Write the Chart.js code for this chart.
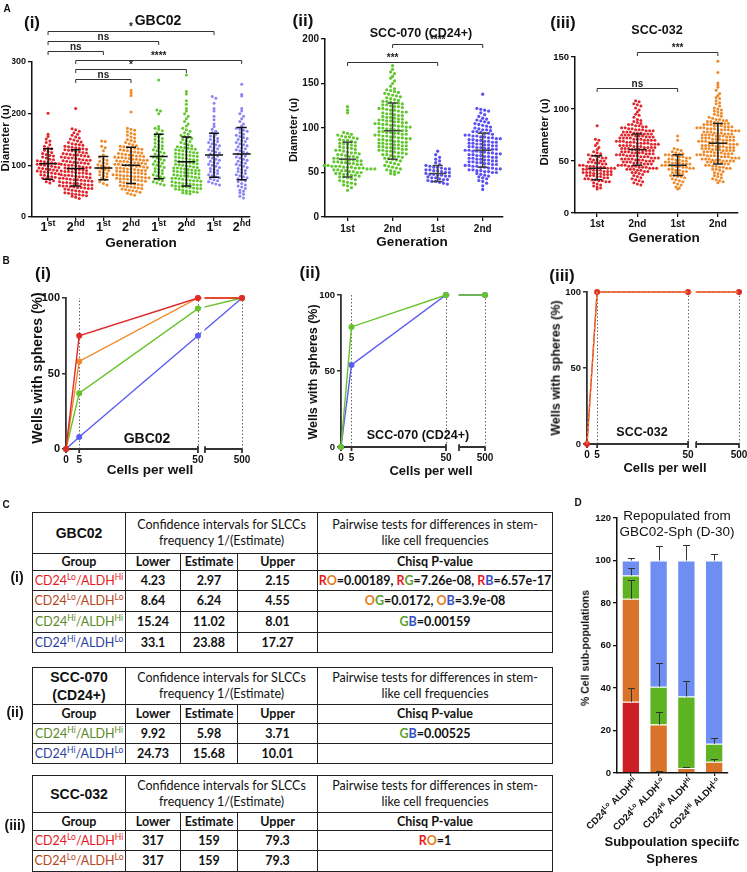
<!DOCTYPE html>
<html><head><meta charset="utf-8">
<script src="https://cdn.jsdelivr.net/npm/chart.js@4.4.0/dist/chart.umd.min.js"></script>
<style>
body{margin:0;width:747px;height:872px;position:relative;background:#fff;overflow:hidden;font-family:"Liberation Sans",Arial,sans-serif;color:#111}
.t{position:absolute;white-space:nowrap;font-weight:bold;line-height:1;color:#111;z-index:2}
table.tb{position:absolute;left:32px;width:520px;border-collapse:collapse;table-layout:fixed;font-family:Lato,"Open Sans",sans-serif;font-size:12.5px;color:#111}
.tb td{border:1.5px solid #222;text-align:center;padding:0;line-height:16px;white-space:nowrap;overflow:hidden}
.tb .b td,.tb td.b{font-weight:bold}
.tb td.nm{font-family:"Liberation Sans",Arial,sans-serif;font-weight:bold;line-height:18px}
.tb sup{font-size:8.5px;vertical-align:5px;line-height:0}
</style></head><body>
<script>
// ================= DATA =================
// Panel A(i) GBC02 – sphere diameters per generation
const genA1 = ['1st','2nd','1st','2nd','1st','2nd','1st','2nd'];
const a1c1 = [201,160,156,151,147,144,140,137,134,132,129,127,125,123,121,119,118,116,114,112,111,109,108,107,106,105,104,103,102,101,100,99,98,97,96,95,94,93,92,91,90,89,88,87,86,85,84,83,82,81,79,78,77,75,74,72,70,68,66];
const a1c2 = [210,171,169,166,163,160,158,155,153,151,149,147,145,144,142,141,140,139,137,136,135,134,133,132,131,130,129,128,127,126,125,124,123,122,121,120,120,119,118,117,116,115,114,114,113,112,111,110,110,109,108,107,106,105,105,104,103,102,101,100,100,99,98,97,96,96,95,94,93,92,92,91,90,89,88,88,87,86,85,85,84,83,82,81,81,80,79,78,78,77,76,75,75,74,73,72,72,71,70,70,69,68,67,67,66,65,65,64,63,62,62,61,60,60,59,58,57,57,56,55,55,54,53,52,51,50,49,48,47,46,45,44,43,42,41,40,38,36];
const a1c3 = [147,146,137,134,128,120,116,112,110,108,105,103,101,99,97,96,95,94,92,90,88,86,84,82,80,78,75,72,68,65,62];
const a1c4 = [245,240,235,203,172,170,168,165,162,160,158,155,153,150,148,146,144,142,140,138,137,136,135,134,133,132,131,130,129,128,127,126,125,124,123,122,121,120,119,118,118,117,116,115,115,114,113,112,112,111,110,110,109,108,108,107,106,105,105,104,103,102,102,101,100,100,99,98,98,97,96,95,95,94,93,93,92,91,90,90,89,88,88,87,86,85,85,84,83,82,82,81,80,80,79,78,78,77,76,76,75,74,74,73,72,72,71,70,69,68,67,66,65,64,63,62,61,60,59,58,57,56,55,54,53,52,51,50,48,46,44,42];
const a1c5 = [265,207,205,200,175,172,170,167,163,160,157,155,152,150,147,145,143,140,138,136,134,132,130,128,126,124,122,120,118,116,114,112,110,108,106,104,102,100,98,96,94,92,90,88,86,84,82,80,78,76,74,72,70,68,66,64,62];
const a1c6 = [275,243,238,225,218,210,205,200,195,190,185,180,176,172,169,166,163,160,158,156,154,152,150,148,146,144,142,140,138,136,135,134,133,132,131,130,129,128,127,126,125,124,123,122,121,120,119,118,117,116,115,114,113,112,111,110,109,108,107,106,105,104,103,102,101,100,99,98,97,96,95,95,94,93,92,91,90,90,89,88,87,86,85,85,84,83,82,81,80,80,79,78,77,76,75,75,74,73,72,71,70,70,69,68,67,66,65,65,64,63,62,62,61,60,59,58,58,57,56,55,55,54,53,52,51,50,49,48,47,46,45];
const a1c7 = [233,230,220,210,205,195,188,180,175,170,166,163,160,157,155,152,150,148,146,144,142,140,138,136,134,132,130,128,126,124,122,120,118,116,114,112,110,108,106,104,102,100,98,96,94,92,90,88,86,84,82,80,78,76,74,72,70,68,66,64,62];
const a1c8 = [257,237,234,210,205,200,195,190,185,180,176,172,170,168,166,163,160,158,156,154,152,150,148,146,144,142,140,138,136,134,132,130,128,126,124,122,120,118,116,114,112,110,108,106,104,102,100,98,96,94,92,90,88,86,84,82,80,78,76,74,72,70,68,65,62,60,58,55,52,50,47,44,40,37];
const meanA1 = [103,94,95,100,117,107,120,122];
const sdLoA1 = [73,60,72,65,74,60,77,72];
const sdHiA1 = [132,130,117,135,160,155,162,173];
const sigA1 = [[0,6,'*'],[0,4,'ns'],[0,2,'ns'],[1,7,'****'],[1,5,'*'],[1,3,'ns']];

// Panel A(ii) SCC-070 (CD24+)
const genA2 = ['1st','2nd','1st','2nd'];
const a2c1 = [124,120,117,95,94,93,92,91,90,90,89,88,87,86,86,85,84,83,82,82,81,80,79,78,78,77,76,75,75,74,73,72,72,71,70,70,69,68,68,67,66,66,65,65,64,64,63,63,62,62,61,61,60,60,59,59,58,58,58,57,57,57,56,56,56,55,55,55,54,54,54,53,53,52,52,51,51,50,50,49,49,48,48,47,47,46,45,45,44,43,42,41,40,39,38,37,36,35,33,30];
const a2c2 = [170,166,163,161,158,156,153,150,147,144,143,142,141,140,139,138,137,136,135,134,133,132,131,130,130,129,128,128,127,126,126,125,124,124,123,122,122,121,120,120,119,118,118,117,116,116,115,114,114,113,112,112,111,110,110,109,109,108,108,107,107,106,106,105,105,104,104,103,103,102,102,101,101,100,100,99,99,98,98,97,97,96,96,95,95,94,94,93,93,92,92,91,91,90,90,89,89,88,88,87,87,86,86,85,85,84,84,83,83,82,82,81,81,80,80,79,79,78,78,77,77,76,76,75,75,74,74,73,72,72,71,70,70,69,68,68,67,66,66,65,64,63,62,61,60,59,58,57,56,55,54,53,52,51,50,49,48];
const a2c3 = [74,70,67,65,63,61,59,58,57,56,56,55,54,54,53,53,52,52,51,50,50,49,48,48,47,47,46,46,45,44,44,43,42,42,41,40,40,39,38,37];
const a2c4 = [138,122,121,120,119,117,115,113,111,110,109,108,107,106,105,104,103,102,101,100,99,98,98,97,96,96,95,94,94,93,92,92,91,91,90,90,89,89,88,88,87,87,86,86,85,85,84,84,83,83,82,82,81,81,80,80,79,79,78,78,77,77,76,76,75,75,74,74,73,73,72,72,71,71,70,70,69,69,68,68,67,67,66,66,65,65,64,64,63,63,62,62,61,61,60,60,59,59,58,58,57,57,56,56,55,55,54,54,53,53,52,52,51,51,50,50,49,48,47,46,45,44,43,41,40,38,35,31];
const meanA2 = [65,97,49,75];
const sdLoA2 = [45,65,40,56];
const sdHiA2 = [84,128,58,94];
const sigA2 = [[0,2,'***'],[1,3,'****']];

// Panel A(iii) SCC-032
const genA3 = ['1st','2nd','1st','2nd'];
const a3c1 = [84,71,70,67,65,63,61,59,58,57,56,55,55,54,53,53,52,51,51,50,50,49,49,48,48,47,47,46,46,45,45,45,44,44,44,43,43,43,42,42,42,41,41,41,40,40,40,39,39,39,38,38,38,37,37,37,36,36,36,35,35,34,34,33,33,32,32,31,31,30,30,29,28,27,26,25,24,23];
const a3c2 = [108,107,105,104,103,101,99,97,95,94,92,90,89,88,87,86,85,85,84,84,83,83,82,82,81,81,80,80,80,79,79,79,78,78,78,77,77,77,76,76,76,75,75,75,75,74,74,74,73,73,73,72,72,72,72,71,71,71,70,70,70,70,69,69,69,68,68,68,67,67,67,67,66,66,66,65,65,65,65,64,64,64,63,63,63,63,62,62,62,61,61,61,60,60,60,60,59,59,59,58,58,58,58,57,57,57,56,56,56,55,55,55,55,54,54,54,53,53,53,52,52,52,52,51,51,51,50,50,50,49,49,49,48,48,48,47,47,47,46,46,46,45,45,45,44,44,44,43,43,43,42,42,42,41,41,40,40,39,39,38,37,36,35,34,33,32,31,30,29,28,27];
const a3c3 = [74,70,62,61,60,59,58,57,57,56,56,55,55,54,54,53,53,52,52,51,51,50,50,49,49,48,48,48,47,47,47,46,46,46,45,45,45,44,44,43,43,42,42,41,41,40,40,39,39,38,37,36,36,35,35,34,33,32,31,30,29,28,27,25,24,23];
const a3c4 = [146,135,125,123,121,118,115,113,111,110,108,106,105,103,101,100,99,98,97,96,95,94,93,92,91,90,90,89,89,88,88,87,87,86,86,86,85,85,85,84,84,84,83,83,83,82,82,82,81,81,81,80,80,80,80,79,79,79,78,78,78,77,77,77,76,76,76,75,75,75,75,74,74,74,73,73,73,72,72,72,71,71,71,70,70,70,70,69,69,69,68,68,68,67,67,67,66,66,66,65,65,65,65,64,64,64,63,63,63,62,62,62,61,61,61,60,60,60,60,59,59,59,58,58,58,57,57,57,56,56,56,55,55,55,55,54,54,54,53,53,53,52,52,52,51,51,51,50,50,50,50,49,49,49,48,48,47,47,46,46,45,45,44,44,43,43,42,42,41,40,39,38,37,36,35,34,33,32,31,30,29];
const meanA3 = [43,61,46,67];
const sdLoA3 = [32,46,36,47];
const sdHiA3 = [55,76,56,86];
const sigA3 = [[0,2,'ns'],[1,3,'***']];

// Panel B – wells with spheres (%) vs cells per well
const cellsB = [0,5,50,500];
const b1Red = [0,75,100,100];
const b1Orange = [0,58,100,100];
const b1Green = [0,37,93,100];
const b1Blue = [0,8,75,100];
const b2Green = [0,79,100,100];
const b2Blue = [0,54,100,100];
const b3Red = [0,100,100,100];
const b3Orange = [0,100,100,100];
const yTicksB = [0,50,100];

// Panel C – tables
const tGroups1 = [['Lo','Hi'],['Lo','Lo'],['Hi','Hi'],['Hi','Lo']];
const tLower1 = ['4.23','8.64','15.24','33.1'];
const tEst1 = ['2.97','6.24','11.02','23.88'];
const tUpper1 = ['2.15','4.55','8.01','17.27'];
const tP1 = ['RO=0.00189, RG=7.26e-08, RB=6.57e-17','OG=0.0172, OB=3.9e-08','GB=0.00159',''];
const tGroups2 = [['Hi','Hi'],['Hi','Lo']];
const tLower2 = ['9.92','24.73'];
const tEst2 = ['5.98','15.68'];
const tUpper2 = ['3.71','10.01'];
const tP2 = ['GB=0.00525',''];
const tGroups3 = [['Lo','Hi'],['Lo','Lo']];
const tLower3 = ['317','317'];
const tEst3 = ['159','159'];
const tUpper3 = ['79.3','79.3'];
const tP3 = ['RO=1',''];

// Panel D – % cell sub-populations (stacked) with upper error
const dCD24 = ['Lo','Lo','Hi','Hi'];
const dALDH = ['Hi','Lo','Hi','Lo'];
const dRed = [33.5,0.3,0,0];
const dOrange = [48.5,22.5,2.4,5.3];
const dGreen = [11,17.8,33.6,8.5];
const dBlue = [7,59.4,64,86.2];
const dRedErr = [6.5,0.8,0,0];
const dOrangeErr = [9,5.8,0.6,1.2];
const dGreenErr = [3.5,11.2,7.4,2.7];
const dBlueErr = [1,7,7.5,3];
const yTicksD = [0,20,40,60,80,100,120];

// ================= HELPERS =================
const FONT = "'Liberation Sans', Arial, sans-serif";
Chart.defaults.font.family = FONT;
Chart.defaults.color = '#111';
Chart.defaults.plugins.legend.display = false;
Chart.defaults.plugins.tooltip.enabled = false;

function T(html, x, y, size, opt) {
  opt = opt || {};
  const e = document.createElement('div');
  e.className = 't';
  e.innerHTML = html;
  e.style.left = x + 'px'; e.style.top = y + 'px'; e.style.fontSize = size + 'px';
  e.style.transform = 'translate(-50%,-50%)' + (opt.rot ? ' rotate(' + opt.rot + 'deg)' : '');
  if (opt.w) e.style.fontWeight = opt.w;
  document.body.appendChild(e);
}

function place(box, area, yW, xH, cfg) {
  const [L, Tp, W, H] = box;
  const d = document.createElement('div');
  d.style.cssText = `position:absolute;left:${L}px;top:${Tp}px;width:${W}px;height:${H}px;z-index:1`;
  const c = document.createElement('canvas');
  c.width = W; c.height = H; c.style.width = W + 'px'; c.style.height = H + 'px';
  d.appendChild(c); document.body.appendChild(d);
  const o = cfg.options;
  o.responsive = false; o.animation = false; o.devicePixelRatio = 1;
  o.layout = {padding: {left: area[0] - L - yW, top: area[1] - Tp, right: L + W - area[2], bottom: Tp + H - area[3] - xH}};
  if (o.scales.x.display !== false) o.scales.x.afterFit = s => { s.height = xH; };
  o.scales.y.afterFit = s => { s.width = yW; };
  return new Chart(c, cfg);
}

function swarm(chart, cols, dx, rowPx) {
  const xs = chart.scales.x, ys = chart.scales.y;
  const unit = xs.getPixelForValue(1) - xs.getPixelForValue(0);
  chart.data.datasets.forEach((ds, ci) => {
    const rows = new Map();
    cols[ci].forEach(v => {
      const r = Math.round(ys.getPixelForValue(v) / rowPx);
      if (!rows.has(r)) rows.set(r, []);
      rows.get(r).push(v);
    });
    const pts = [];
    rows.forEach(arr => {
      const n = arr.length;
      arr.forEach((v, j) => pts.push({x: ci + (j - (n - 1) / 2) * dx / unit, y: v}));
    });
    ds.data = pts;
  });
  chart.update('none');
}

function meanSDPlugin(mean, lo, hi, mw, cw, color) {
  return {id: 'meanSD', afterDatasetsDraw(chart) {
    const ctx = chart.ctx, xs = chart.scales.x, ys = chart.scales.y;
    ctx.save(); ctx.strokeStyle = color; ctx.lineWidth = 1.5;
    mean.forEach((m, i) => {
      const x = xs.getPixelForValue(i), ym = ys.getPixelForValue(m), yl = ys.getPixelForValue(lo[i]), yh = ys.getPixelForValue(hi[i]);
      ctx.beginPath();
      ctx.moveTo(x - mw, ym); ctx.lineTo(x + mw, ym);
      ctx.moveTo(x, yl); ctx.lineTo(x, yh);
      ctx.moveTo(x - cw, yl); ctx.lineTo(x + cw, yl);
      ctx.moveTo(x - cw, yh); ctx.lineTo(x + cw, yh);
      ctx.stroke();
    });
    ctx.restore();
  }};
}

function bracketPlugin(list, levels, fs) {
  return {id: 'brackets', afterDraw(chart) {
    const ctx = chart.ctx, xs = chart.scales.x;
    ctx.save(); ctx.strokeStyle = '#333'; ctx.lineWidth = 1; ctx.fillStyle = '#222';
    ctx.font = `bold ${fs}px ${FONT}`; ctx.textAlign = 'center'; ctx.textBaseline = 'alphabetic';
    list.forEach((b, k) => {
      const x1 = xs.getPixelForValue(b[0]), x2 = xs.getPixelForValue(b[1]);
      const y = levels[k] - chart.canvas.parentNode.offsetTop + 0.5;
      ctx.beginPath(); ctx.moveTo(x1, y + 3.5); ctx.lineTo(x1, y); ctx.lineTo(x2, y); ctx.lineTo(x2, y + 3.5); ctx.stroke();
      ctx.fillText(b[2], (x1 + x2) / 2, y - 2);
    });
    ctx.restore();
  }};
}

function supLabelPlugin(labels, base, sup, yb) {
  return {id: 'supLabels', afterDraw(chart) {
    const ctx = chart.ctx, xs = chart.scales.x;
    const y = chart.chartArea.bottom + yb;
    ctx.save(); ctx.fillStyle = '#111'; ctx.textBaseline = 'alphabetic'; ctx.textAlign = 'left';
    labels.forEach((l, i) => {
      const x = xs.getPixelForValue(i);
      const a = l.slice(0, 1), s = l.slice(1);
      ctx.font = `bold ${base}px ${FONT}`; const wa = ctx.measureText(a).width;
      ctx.font = `bold ${sup}px ${FONT}`; const ws = ctx.measureText(s).width;
      const x0 = x - (wa + ws) / 2;
      ctx.font = `bold ${base}px ${FONT}`; ctx.fillText(a, x0, y);
      ctx.font = `bold ${sup}px ${FONT}`; ctx.fillText(s, x0 + wa, y - 5.5);
    });
    ctx.restore();
  }};
}

function aChart(o) {
  const ds = o.cols.map((v, i) => ({data: v.map(y => ({x: i, y})), backgroundColor: o.colors[i], borderWidth: 0, pointRadius: o.r, pointHoverRadius: o.r, clip: false}));
  const gridOpt = {drawOnChartArea: false, tickLength: 4, color: '#111', lineWidth: 1.3};
  const cfg = {type: 'scatter', data: {datasets: ds}, plugins: o.plugins, options: {scales: {
    x: {type: 'linear', min: o.xr[0], max: o.xr[1],
        afterBuildTicks: s => { s.ticks = o.labels.map((_, i) => ({value: i})); },
        ticks: {display: o.showX, autoSkip: false, maxRotation: 0, padding: o.xpad, font: {size: o.xfs, weight: 'bold'}, color: '#111', callback: v => o.labels[v]},
        grid: gridOpt, border: {color: '#111', width: 1.5}},
    y: {min: 0, max: o.ymax,
        afterBuildTicks: s => { s.ticks = o.yticks.map(v => ({value: v})); },
        ticks: {padding: 2, font: {size: o.yfs, weight: 'bold'}, color: '#111'},
        grid: gridOpt, border: {color: '#111', width: 1.5}}
  }}};
  const ch = place(o.box, o.area, o.yW, o.xH, cfg);
  swarm(ch, o.cols, o.dx, o.rowPx);
  return ch;
}

function brokenPlugin(cells, tx, segStart, lw) {
  return {id: 'broken',
    beforeDatasetsDraw(chart) {
      const ctx = chart.ctx, xs = chart.scales.x, ys = chart.scales.y, a = chart.chartArea;
      const P = v => xs.getPixelForValue(tx(v));
      ctx.save();
      ctx.setLineDash([1.5, 2]); ctx.strokeStyle = '#666'; ctx.lineWidth = 1;
      cells.slice(1).forEach(v => { const x = Math.round(P(v)) + 0.5; ctx.beginPath(); ctx.moveTo(x, a.bottom); ctx.lineTo(x, ys.getPixelForValue(100)); ctx.stroke(); });
      ctx.setLineDash([]); ctx.strokeStyle = '#333'; ctx.lineWidth = lw;
      const yb = a.bottom, x50 = P(50), xs2 = xs.getPixelForValue(segStart), x500 = P(500);
      ctx.beginPath();
      ctx.moveTo(a.left, yb); ctx.lineTo(x50, yb);
      ctx.moveTo(xs2, yb); ctx.lineTo(x500, yb);
      cells.forEach(v => { const x = P(v); ctx.moveTo(x, yb); ctx.lineTo(x, yb + 4); });
      ctx.moveTo(x50, yb - 3); ctx.lineTo(x50, yb);
      ctx.moveTo(xs2, yb - 3); ctx.lineTo(xs2, yb + 4);
      ctx.stroke();
      ctx.fillStyle = '#111'; ctx.font = `bold 10px ${FONT}`; ctx.textAlign = 'center'; ctx.textBaseline = 'middle';
      cells.forEach(v => ctx.fillText(String(v), P(v), yb + 11));
      ctx.restore();
    },
    afterDatasetsDraw(chart) {
      const ctx = chart.ctx, xs = chart.scales.x, a = chart.chartArea;
      const x1 = xs.getPixelForValue(tx(50)) + 3.5, x2 = xs.getPixelForValue(segStart) - 0.5;
      ctx.save(); ctx.fillStyle = '#fff'; ctx.fillRect(x1, a.top - 6, x2 - x1, a.bottom - a.top + 4); ctx.restore();
    }};
}

function bChart(o) {
  const tx = v => v <= 50 ? v : o.segStart + (o.xmax - o.segStart) * (v - 50) / 450;
  const ds = o.series.map(s => ({data: s.vals.map((v, i) => ({x: tx(cellsB[i]), y: v})), borderColor: s.color, backgroundColor: s.pcolor || s.color, borderWidth: 1.4, borderDash: s.dash || [], pointRadius: s.r === undefined ? 3 : s.r, pointBorderWidth: 0, clip: false, showLine: true}));
  const cfg = {type: 'line', data: {datasets: ds}, plugins: [brokenPlugin(cellsB, tx, o.segStart, 1.8)], options: {scales: {
    x: {type: 'linear', min: 0, max: o.xmax, display: false},
    y: {min: 0, max: 100, afterBuildTicks: s => { s.ticks = yTicksB.map(v => ({value: v})); },
        ticks: {padding: 2, font: {size: o.yfs, weight: 'bold'}, color: '#111'},
        grid: {drawOnChartArea: false, tickLength: 4, color: '#333', lineWidth: 1.5}, border: {color: '#333', width: 1.8}}
  }}};
  return place(o.box, o.area, o.yW, 0, cfg);
}

// ================= TEXT LABELS =================
T('A', 7, 9, 10); T('B', 6, 261, 10); T('C', 6, 505, 10); T('D', 578, 503, 10);
T('(i)', 32, 22, 17); T('GBC02', 158, 20, 14);
T('Diameter (u)', 6, 138, 11.5, {rot: -90}); T('Generation', 141, 243, 13.5);
T('(ii)', 303, 20, 17); T('SCC-070 (CD24+)', 421, 33, 12.5);
T('Diameter (u)', 293, 130, 11, {rot: -90}); T('Generation', 412, 242, 13.5);
T('(iii)', 563, 22, 17); T('SCC-032', 657, 30, 12.5);
T('Diameter (u)', 545, 132, 11.5, {rot: -90}); T('Generation', 664, 238, 13.5);
T('(i)', 43, 273, 17); T('GBC02', 147, 438, 14);
T('Wells with spheres (%)', 37, 368, 14, {rot: -90}); T('Cells per well', 150, 470, 13.5);
T('(ii)', 310, 272, 17); T('SCC-070 (CD24+)', 418, 435, 12.5);
T('Wells with spheres (%)', 313, 372, 12.5, {rot: -90}); T('Cells per well', 431, 470, 13);
T('(iii)', 562, 275, 17); T('SCC-032', 642, 432, 12.5);
T('Wells with spheres (%)', 556, 368, 12.5, {rot: -90}); T('Cells per well', 665, 467, 13);
T('(i)', 17, 577, 14); T('(ii)', 15, 712, 14); T('(iii)', 15, 825, 14);
T('Repopulated from', 677, 516, 13.5, {w: 'normal'}); T('GBC02-Sph (D-30)', 677, 532, 13.5, {w: 'normal'});
T('% Cell sub-populations', 585, 648, 10.5, {rot: -90});
T('Subpoulation speciifc', 672, 841, 13); T('Spheres', 672, 858, 13);

// ================= PANEL A =================
const RED = '#e0262c', ORG = '#ee8a2a', GRN = '#62c72e', LAV = '#8b83f5', BLU = '#5a4ff2';
aChart({box: [0, 0, 262, 260], area: [32, 62, 250, 217], yW: 20, xH: 30, cols: [a1c1, a1c2, a1c3, a1c4, a1c5, a1c6, a1c7, a1c8],
  colors: [RED, RED, ORG, ORG, GRN, GRN, LAV, LAV], labels: genA1, xr: [-0.58, 7.3], ymax: 300, yticks: [0, 100, 200, 300],
  showX: false, xpad: 2, xfs: 10, yfs: 9, r: 1.5, dx: 3.6, rowPx: 3.6,
  plugins: [meanSDPlugin(meanA1, sdLoA1, sdHiA1, 9, 5, '#111'), bracketPlugin(sigA1, [31, 41, 51, 60, 69, 79], 10), supLabelPlugin(genA1, 12.5, 9, 14)]});
aChart({box: [290, 0, 225, 260], area: [325, 39, 503, 217], yW: 30, xH: 30, cols: [a2c1, a2c2, a2c3, a2c4],
  colors: [GRN, GRN, BLU, BLU], labels: genA2, xr: [-0.5, 3.45], ymax: 200, yticks: [0, 50, 100, 150, 200],
  showX: true, xpad: 2, xfs: 10, yfs: 10, r: 1.6, dx: 3.9, rowPx: 3.8,
  plugins: [meanSDPlugin(meanA2, sdLoA2, sdHiA2, 8.5, 5, '#444'), bracketPlugin(sigA2, [62, 44], 10)]});
aChart({box: [540, 0, 207, 260], area: [575, 57, 738, 213], yW: 30, xH: 30, cols: [a3c1, a3c2, a3c3, a3c4],
  colors: [RED, RED, ORG, ORG], labels: genA3, xr: [-0.55, 3.5], ymax: 150, yticks: [0, 50, 100, 150],
  showX: true, xpad: 1, xfs: 10, yfs: 9.5, r: 1.5, dx: 3.5, rowPx: 3.4,
  plugins: [meanSDPlugin(meanA3, sdLoA3, sdHiA3, 9, 5, '#222'), bracketPlugin(sigA3, [88, 52], 10)]});

// ================= PANEL B =================
const bRED = '#e02a2a', bORG = '#ef8a2a', bGRN = '#66c32a', bBLU = '#5b5cf5';
bChart({box: [20, 262, 240, 230], area: [66, 298, 242, 449], yW: 30, yfs: 11, segStart: 52.65, xmax: 66.7,
  series: [{vals: b1Red, color: bRED}, {vals: b1Orange, color: bORG}, {vals: b1Green, color: bGRN}, {vals: b1Blue, color: bBLU}]});
bChart({box: [300, 262, 200, 230], area: [341, 295, 485, 447], yW: 30, yfs: 9.5, segStart: 56.2, xmax: 68.6,
  series: [{vals: b2Green, color: bGRN}, {vals: b2Blue, color: bBLU}]});
bChart({box: [550, 262, 197, 230], area: [587, 292, 739, 444], yW: 30, yfs: 9.5, segStart: 54, xmax: 75.2,
  series: [{vals: b3Orange, color: bORG, dash: [3, 2], r: 0}, {vals: b3Red, color: bRED}]});

// ================= PANEL C (tables) =================
const gCol = g => ({LoHi: '#e8191e', LoLo: '#b5471b', HiHi: '#5b8a1f', HiLo: '#2b3f9e'})[g[0] + g[1]];
const pCol = {R: '#e8191e', O: '#e07b16', G: '#5a9e2a', B: '#3551c4'};
const colorP = s => s.replace(/([ROGB])([ROGB])=/g, (m, a, b) => `<span style="color:${pCol[a]}">${a}</span><span style="color:${pCol[b]}">${b}</span>=`);
function buildTable(top, name, groups, lower, est, upper, pv, rowH) {
  const tb = document.createElement('table'); tb.className = 'tb'; tb.style.top = top + 'px';
  let h = '<colgroup><col style="width:93px"><col style="width:55px"><col style="width:57px"><col style="width:80px"><col style="width:235px"></colgroup>';
  h += `<tr style="height:${rowH[0]}px"><td class="nm" style="font-size:14px">${name}</td><td colspan="3">Confidence intervals for SLCCs<br>frequency 1/(Estimate)</td><td>Pairwise tests for differences in stem-<br>like cell frequencies</td></tr>`;
  h += `<tr class="b" style="height:${rowH[1]}px"><td>Group</td><td>Lower</td><td>Estimate</td><td>Upper</td><td>Chisq P-value</td></tr>`;
  groups.forEach((g, i) => {
    h += `<tr style="height:${rowH[2 + i]}px"><td style="color:${gCol(g)}">CD24<sup>${g[0]}</sup>/ALDH<sup>${g[1]}</sup></td><td class="b">${lower[i]}</td><td class="b">${est[i]}</td><td class="b">${upper[i]}</td><td class="b">${colorP(pv[i])}</td></tr>`;
  });
  tb.innerHTML = h; document.body.appendChild(tb);
}
buildTable(512, 'GBC02', tGroups1, tLower1, tEst1, tUpper1, tP1, [41, 17, 20, 21, 21, 20]);
buildTable(667, 'SCC-070<br>(CD24+)', tGroups2, tLower2, tEst2, tUpper2, tP2, [36, 19, 20, 20]);
buildTable(775, 'SCC-032', tGroups3, tLower3, tEst3, tUpper3, tP3, [37, 18, 20, 21]);

// ================= PANEL D =================
const dStack = [dRed, dOrange, dGreen, dBlue];
const dErr = [dRedErr, dOrangeErr, dGreenErr, dBlueErr];
const dColors = ['#cc1f25', '#d9732a', '#5db322', '#6e8ef2'];
const errPlugin = {id: 'errD', afterDatasetsDraw(chart) {
  const ctx = chart.ctx, xs = chart.scales.x, ys = chart.scales.y;
  ctx.save(); ctx.strokeStyle = '#333'; ctx.lineWidth = 1;
  dCD24.forEach((_, i) => {
    let cum = 0;
    dStack.forEach((s, k) => {
      cum += s[i];
      const e = dErr[k][i];
      if (!e) return;
      const x = Math.round(xs.getPixelForValue(i)) + 0.5, y1 = ys.getPixelForValue(cum), y2 = Math.round(ys.getPixelForValue(cum + e)) + 0.5;
      ctx.beginPath(); ctx.moveTo(x, y1); ctx.lineTo(x, y2); ctx.moveTo(x - 3.5, y2); ctx.lineTo(x + 3.5, y2); ctx.stroke();
    });
  });
  ctx.restore();
}};
const dLabelPlugin = {id: 'dLabels', afterDraw(chart) {
  const ctx = chart.ctx, xs = chart.scales.x, yb = chart.chartArea.bottom;
  ctx.save(); ctx.fillStyle = '#111'; ctx.textBaseline = 'alphabetic'; ctx.textAlign = 'left';
  dCD24.forEach((c, i) => {
    const parts = [['CD24', 9.5, 0], [c, 6.5, -4], [' ALDH', 9.5, 0], [dALDH[i], 6.5, -4]];
    let w = 0;
    parts.forEach(p => { ctx.font = `bold ${p[1]}px ${FONT}`; p.push(ctx.measureText(p[0]).width); w += p[3]; });
    ctx.save(); ctx.translate(xs.getPixelForValue(i) + 5, yb + 7); ctx.rotate(-Math.PI / 4);
    let x = -w;
    parts.forEach(p => { ctx.font = `bold ${p[1]}px ${FONT}`; ctx.fillText(p[0], x, 3 + p[2]); x += p[3]; });
    ctx.restore();
  });
  ctx.restore();
}};
place([580, 505, 167, 367], [617, 518, 728, 773], 30, 20, {type: 'bar',
  data: {labels: dCD24.map((c, i) => 'CD24' + c + ' ALDH' + dALDH[i]),
    datasets: dStack.map((s, k) => ({data: s, backgroundColor: dColors[k], borderColor: 'rgba(255,255,255,0.6)', borderWidth: 1, barPercentage: 0.66, categoryPercentage: 1}))},
  plugins: [errPlugin, dLabelPlugin],
  options: {scales: {
    x: {stacked: true, ticks: {display: false}, grid: {drawOnChartArea: false, offset: false, tickLength: 3, color: '#111', lineWidth: 1.2}, border: {color: '#111', width: 1.5}},
    y: {stacked: true, min: 0, max: 120, afterBuildTicks: s => { s.ticks = yTicksD.map(v => ({value: v})); },
        ticks: {padding: 2, font: {size: 9.5, weight: 'bold'}, color: '#111'},
        grid: {drawOnChartArea: false, tickLength: 4, color: '#111', lineWidth: 1.3}, border: {color: '#111', width: 1.5}}
  }}});
</script>
</body></html>
